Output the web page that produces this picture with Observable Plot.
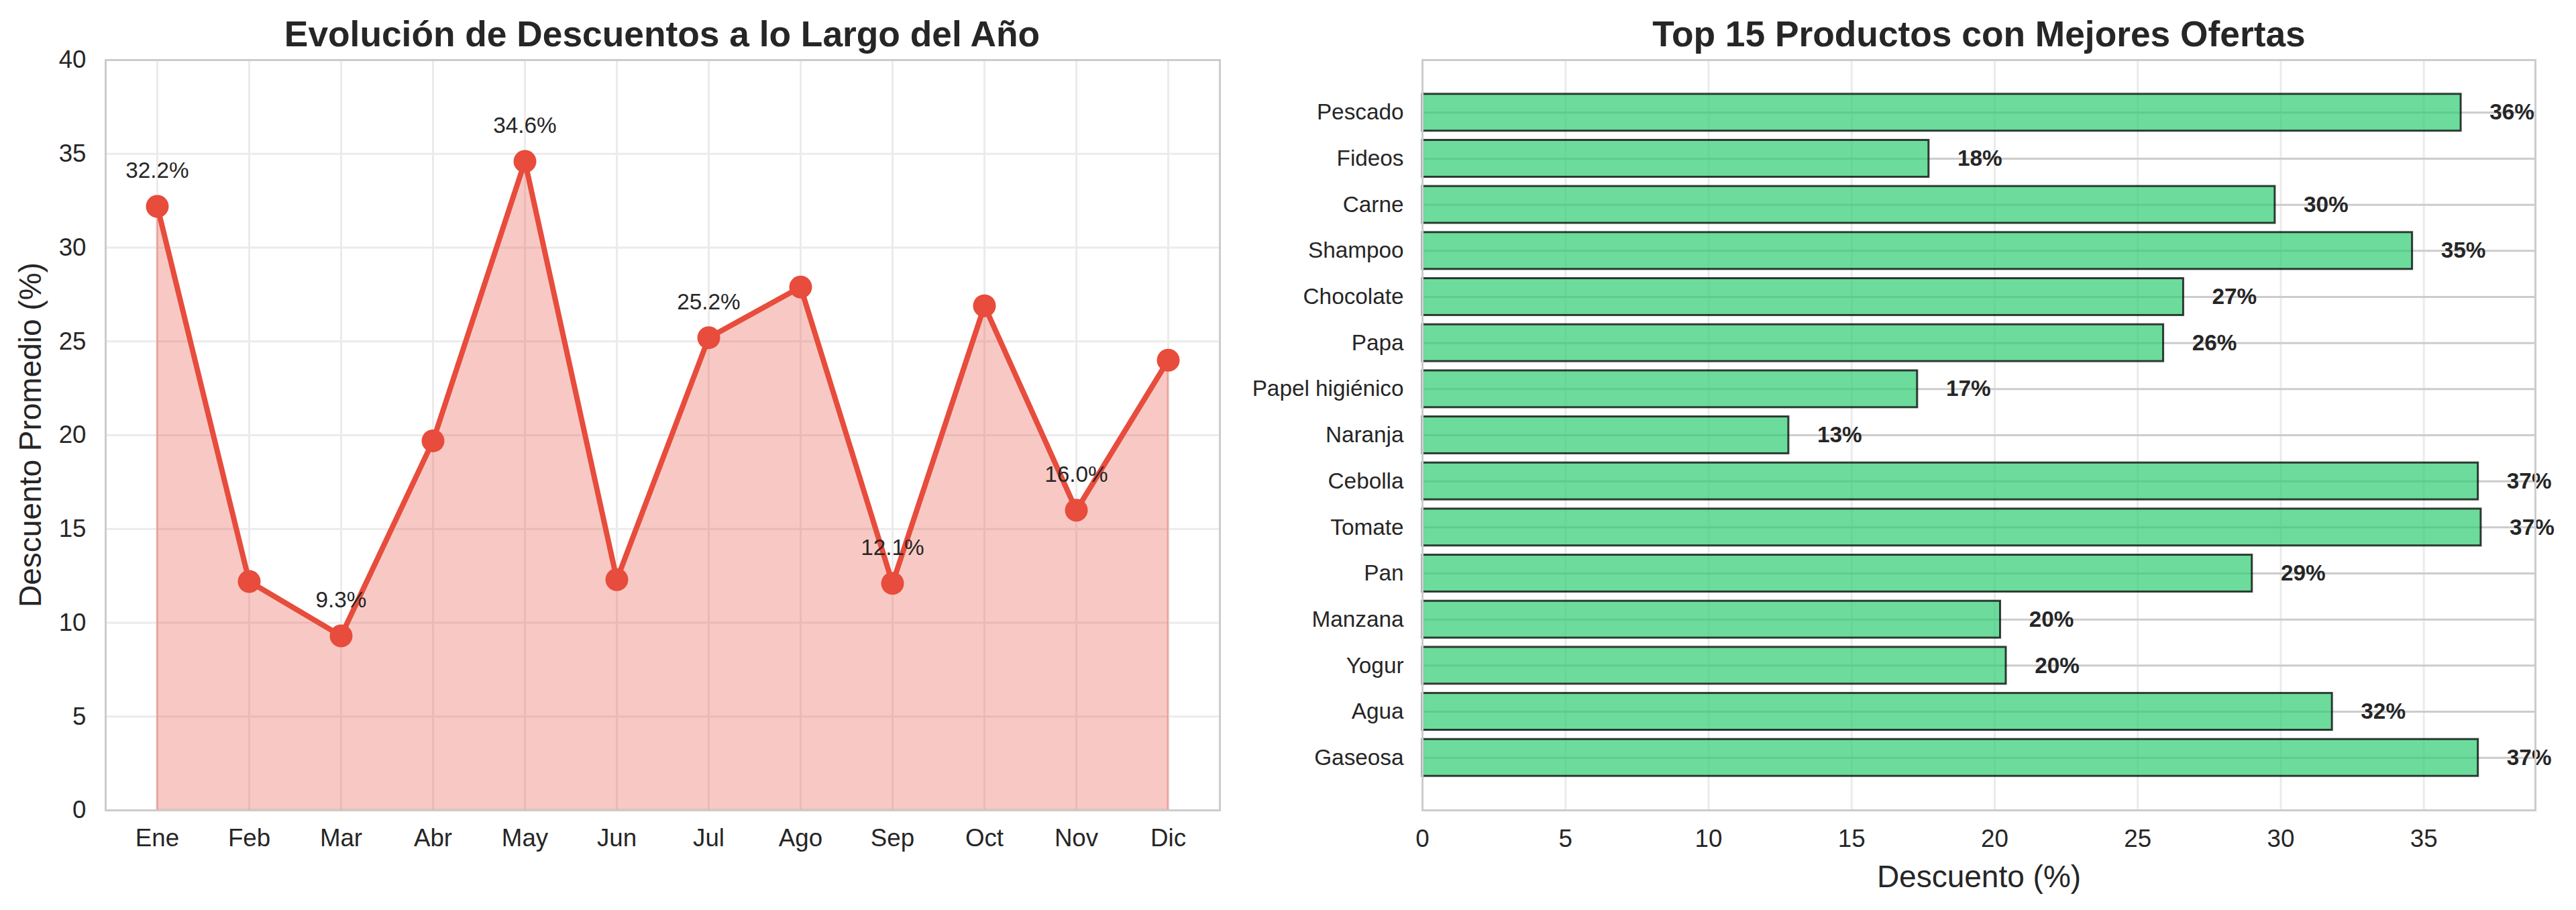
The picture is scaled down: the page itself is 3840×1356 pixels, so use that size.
<!DOCTYPE html>
<html>
<head>
<meta charset="utf-8">
<script src="https://cdn.jsdelivr.net/npm/d3@7"></script>
<script src="https://cdn.jsdelivr.net/npm/@observablehq/plot@0.6"></script>
<style>
  html, body { margin: 0; padding: 0; background: #ffffff; }
  #wrap { position: relative; width: 3840px; height: 1356px; background: #ffffff; overflow: hidden;
          font-family: "Liberation Sans", Arial, sans-serif; color: #262626; }
  .panel { position: absolute; top: 0; }
  .ttl { position: absolute; font-weight: bold; font-size: 53.3px; line-height: 1; white-space: nowrap; transform: translateX(-50%); }
  .lbl { position: absolute; font-size: 46px; line-height: 1; white-space: nowrap; }
</style>
</head>
<body>
<div id="wrap">
  <div class="ttl" style="left:987px; top:24px;">Evolución de Descuentos a lo Largo del Año</div>
  <div class="ttl" style="left:2950px; top:24px;">Top 15 Productos con Mejores Ofertas</div>
  <div class="lbl" style="left:45px; top:648px; transform: translate(-50%,-50%) rotate(-90deg);">Descuento Promedio (%)</div>
  <div class="lbl" style="left:2950px; top:1283px; transform: translateX(-50%);">Descuento (%)</div>
  <div id="left" class="panel" style="left:0px;"></div>
  <div id="right" class="panel" style="left:1900px;"></div>
</div>
<script>
// ---- Data: monthly average discount ----
const months = ["Ene", "Feb", "Mar", "Abr", "May", "Jun", "Jul", "Ago", "Sep", "Oct", "Nov", "Dic"];
const monthlyDiscount = [32.2, 12.2, 9.3, 19.7, 34.6, 12.3, 25.2, 27.9, 12.1, 26.9, 16.0, 24.0];
const annotatedMonths = ["Ene", "Mar", "May", "Jul", "Sep", "Nov"];
const leftYTicks = [0, 5, 10, 15, 20, 25, 30, 35, 40];

// ---- Data: top 15 products ----
const products = ["Pescado", "Fideos", "Carne", "Shampoo", "Chocolate", "Papa", "Papel higiénico", "Naranja",
                  "Cebolla", "Tomate", "Pan", "Manzana", "Yogur", "Agua", "Gaseosa"];
const productDiscount = [36.3, 17.7, 29.8, 34.6, 26.6, 25.9, 17.3, 12.8, 36.9, 37.0, 29.0, 20.2, 20.4, 31.8, 36.9];
const rightXTicks = [0, 5, 10, 15, 20, 25, 30, 35];

const monthly = months.map((m, i) => ({month: m, value: monthlyDiscount[i]}));
const prodData = products.map((p, i) => ({product: p, value: productDiscount[i]}));

const FONT = '"Liberation Sans", Arial, sans-serif';
const TXT = "#262626";

const left = Plot.plot({
  width: 1900,
  height: 1356,
  marginLeft: 157,
  marginRight: 82,
  marginTop: 89,
  marginBottom: 149,
  style: {fontFamily: FONT, fontSize: "36.7px", color: TXT, background: "transparent", overflow: "visible"},
  x: {type: "point", domain: months, padding: 0.55, label: null},
  y: {domain: [0, 40], label: null},
  marks: [
    Plot.gridX(months, {stroke: "#ebebeb", strokeOpacity: 1, strokeWidth: 3}),
    Plot.gridY(leftYTicks, {stroke: "#ebebeb", strokeOpacity: 1, strokeWidth: 3}),
    Plot.areaY(monthly, {x: "month", y: "value", fill: "#e74c3c", fillOpacity: 0.3,
                         stroke: "#e74c3c", strokeOpacity: 0.3, strokeWidth: 3}),
    Plot.lineY(monthly, {x: "month", y: "value", stroke: "#e74c3c", strokeWidth: 8}),
    Plot.dot(monthly, {x: "month", y: "value", r: 17, fill: "#e74c3c"}),
    Plot.text(monthly.filter(d => annotatedMonths.includes(d.month)), {
      x: "month", y: "value", text: d => d.value.toFixed(1) + "%",
      dy: -53, lineAnchor: "middle", fontSize: 33.3, fill: TXT
    }),
    Plot.frame({stroke: "#cccccc", strokeWidth: 3}),
    Plot.axisX(months, {tickSize: 0, tickPadding: 27, fontSize: 36.7, label: null, fill: TXT}),
    Plot.axisY(leftYTicks, {tickSize: 0, tickPadding: 29, fontSize: 36.7, label: null, fill: TXT})
  ]
});
document.getElementById("left").appendChild(left);

const right = Plot.plot({
  width: 1940,
  height: 1356,
  marginLeft: 220,
  marginRight: 61,
  marginTop: 89,
  marginBottom: 149,
  style: {fontFamily: FONT, fontSize: "36.7px", color: TXT, background: "transparent", overflow: "visible"},
  x: {domain: [0, 38.9], label: null},
  y: {type: "band", domain: products, paddingInner: 0.2, paddingOuter: 0.74, round: false, label: null},
  marks: [
    Plot.gridX(rightXTicks, {stroke: "#ebebeb", strokeOpacity: 1, strokeWidth: 3}),
    Plot.gridY(products, {stroke: "#cccccc", strokeOpacity: 1, strokeWidth: 3}),
    Plot.barX(prodData, {x: "value", y: "product", fill: "#2ecc71", fillOpacity: 0.7,
                         stroke: "#000000", strokeOpacity: 0.75, strokeWidth: 3}),
    Plot.text(prodData, {x: d => d.value + 1, y: "product", text: d => Math.round(d.value) + "%",
                         textAnchor: "start", fontWeight: "bold", fontSize: 33.3, fill: TXT}),
    Plot.frame({stroke: "#cccccc", strokeWidth: 3}),
    Plot.axisX(rightXTicks, {tickSize: 0, tickPadding: 28, fontSize: 36.7, label: null, fill: TXT}),
    Plot.axisY(products, {tickSize: 0, tickPadding: 28, fontSize: 33.3, label: null, fill: TXT})
  ]
});
document.getElementById("right").appendChild(right);
</script>
</body>
</html>
